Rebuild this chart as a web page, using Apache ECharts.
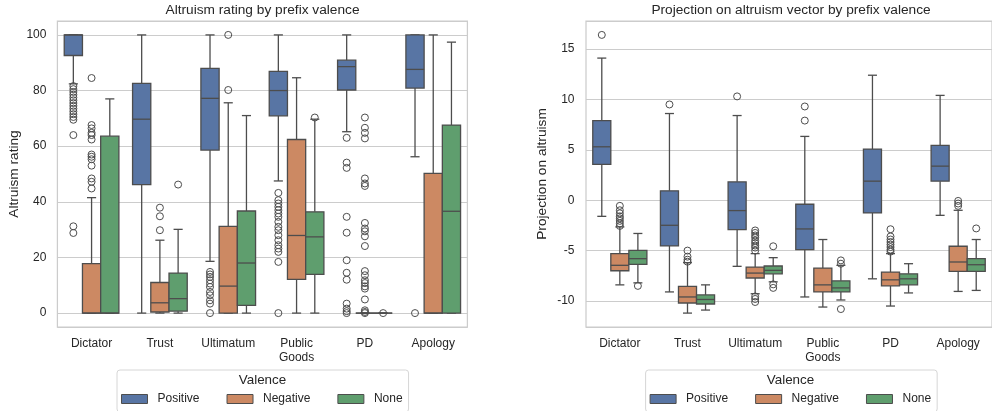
<!DOCTYPE html>
<html>
<head>
<meta charset="utf-8">
<script src="https://cdn.jsdelivr.net/npm/echarts@6/dist/echarts.min.js"></script>
<style>
  html, body { margin: 0; padding: 0; background: #ffffff; }
  #chart { width: 992px; height: 411px; }
</style>
</head>
<body>
<div id="chart"></div>
<script>
// Categories (prefix games) and hue levels
const categories = ['Dictator', 'Trust', 'Ultimatum', 'Public\nGoods', 'PD', 'Apology'];
const valences = ['Positive', 'Negative', 'None'];

// Altruism rating: [lower whisker, Q1, median, Q3, upper whisker] per category
const ratingPositive = [
  [82.4, 92.6, 100, 100, 100],
  [0, 46.2, 69.7, 82.6, 100],
  [18.6, 58.6, 77.2, 88, 100],
  [47.5, 70.9, 80, 86.9, 100],
  [65.2, 80.2, 88.6, 90.9, 100],
  [56.2, 80.9, 87.6, 100, 100]
];
const ratingNegative = [
  [0, 0, 0, 17.8, 41.5],
  [0, 0.4, 3.7, 11.0, 26.2],
  [0, 0, 9.7, 31.2, 75.6],
  [0, 12.1, 27.9, 62.4, 84.6],
  [0, 0, 0, 0, 0],
  [0, 0, 0, 50.2, 100]
];
const ratingNone = [
  [0, 0, 0, 63.6, 77],
  [0, 0.7, 5.2, 14.4, 30.1],
  [0, 2.8, 18, 36.7, 71],
  [0, 13.9, 27.4, 36.4, 69.7],
  [0, 0, 0, 0, 0],
  [0, 0, 36.6, 67.6, 97.4]
];

// Altruism rating outliers per category
const ratingOutPositive = [
  [81.6, 80.5, 79.5, 78.5, 77.5, 76.5, 75.5, 74.5, 73.5, 72.5, 71.5, 70.5, 69.5, 64, 31.2, 28.8],
  [],
  [14.8, 13.9, 13, 11.8, 10.6, 9.4, 7.6, 6.4, 4.6, 3.4, 0],
  [43.2, 40.6, 39.4, 38.2, 37, 35.8, 34.6, 32.8, 31, 29.8, 28, 26.2, 24.4, 23.2, 22, 18.4, 0],
  [63, 54.1, 52.2, 34.6, 28.9, 19, 14.5, 12, 3.4, 1.6, 0.7, 0],
  [0]
];
const ratingOutNegative = [
  [84.5, 67.6, 66.4, 64.8, 64, 62.4, 57, 56.2, 55.3, 53, 48.4, 47.2, 44.8],
  [37.9, 34.8, 29.8],
  [100, 80.2],
  [],
  [70.3, 66.6, 64.8, 62.8, 48.4, 46.6, 45.7, 32.4, 30.4, 29.4, 27.6, 24.1, 15.1, 13.6, 11.8, 10.8, 9.6, 8.8, 4.9, 1, 0.4, 0],
  []
];
const ratingOutNone = [
  [],
  [46.2],
  [],
  [70.3],
  [0],
  []
];

// Projection on altruism vector: [lower whisker, Q1, median, Q3, upper whisker]
const projPositive = [
  [-1.6, 3.55, 5.3, 7.9, 14.1],
  [-9.1, -4.54, -2.49, 0.93, 8.6],
  [-6.56, -2.92, -1.03, 1.82, 8.4],
  [-9.6, -4.9, -2.85, -0.4, 6.33],
  [-7.8, -1.26, 1.89, 5.07, 12.4],
  [-1.5, 1.89, 3.38, 5.44, 10.4]
];
const projNegative = [
  [-8.4, -7.0, -6.46, -5.3, -2.65],
  [-11.2, -10.2, -9.6, -8.55, -6.2],
  [-9.28, -7.72, -7.23, -6.63, -5.3],
  [-10.6, -9.1, -8.4, -6.73, -3.9],
  [-10.5, -8.5, -7.9, -7.13, -5.3],
  [-9.05, -7.06, -6.13, -4.57, -1.0]
];
const projNone = [
  [-8.2, -6.36, -5.8, -4.97, -3.3],
  [-10.9, -10.3, -9.85, -9.4, -8.4],
  [-8.1, -7.3, -6.96, -6.53, -5.7],
  [-9.9, -9.1, -8.7, -8.0, -6.46],
  [-9.2, -8.4, -7.8, -7.3, -6.3],
  [-8.95, -7.06, -6.4, -5.8, -3.9]
];

// Projection outliers per category
const projOutPositive = [[16.4], [9.5], [10.3], [9.3, 7.9], [], []];
const projOutNegative = [
  [-0.56, -1.0, -1.3, -1.6, -1.8, -2.05, -2.3, -2.55],
  [-5.0, -5.6, -5.9, -6.1],
  [-3.0, -3.25, -3.5, -3.7, -4.0, -4.25, -4.5, -4.7, -5.0, -9.55, -9.8, -10.1],
  [],
  [-2.88, -3.6, -3.9, -4.15, -4.4, -4.65, -4.9, -5.1],
  [-0.07, -0.33, -0.56]
];
const projOutNone = [[-8.5], [], [-4.57, -8.35, -8.7], [-5.97, -6.3, -10.8], [], [-2.8]];

const colors = ['#5875a4', '#cc8963', '#5f9e6e'];
const LINE = '#4d4d4d';
const TEXT = '#262626';
const FONT = '"Liberation Sans", Arial, sans-serif';

function boxRows(stats) {
  return stats.map((s, i) => [i].concat(s));
}
function flierRows(outs) {
  const rows = [];
  outs.forEach((vals, i) => vals.forEach(v => rows.push([i, v])));
  return rows;
}

// Dodged box: three hues share 80% of the band, touching each other
function boxRenderer(hue) {
  return function (params, api) {
    const cat = api.value(0);
    const band = api.size([1, 0])[0];
    const w = band * 0.8 / 3;
    const cx = api.coord([cat, 0])[0] + (hue - 1) * w;
    const py = (i) => api.coord([cat, api.value(i)])[1];
    const lo = py(1), q1 = py(2), med = py(3), q3 = py(4), hi = py(5);
    const cap = w * 0.5;
    const ls = { stroke: LINE, lineWidth: 1.3 };
    return {
      type: 'group',
      children: [
        { type: 'line', shape: { x1: cx, y1: q1, x2: cx, y2: lo }, style: ls },
        { type: 'line', shape: { x1: cx, y1: q3, x2: cx, y2: hi }, style: ls },
        { type: 'line', shape: { x1: cx - cap / 2, y1: lo, x2: cx + cap / 2, y2: lo }, style: ls },
        { type: 'line', shape: { x1: cx - cap / 2, y1: hi, x2: cx + cap / 2, y2: hi }, style: ls },
        { type: 'rect', shape: { x: cx - w / 2, y: q3, width: w, height: q1 - q3 },
          style: { fill: colors[hue], stroke: LINE, lineWidth: 1.3 } },
        { type: 'line', shape: { x1: cx - w / 2, y1: med, x2: cx + w / 2, y2: med }, style: ls }
      ]
    };
  };
}

function flierRenderer(hue) {
  return function (params, api) {
    const cat = api.value(0);
    const band = api.size([1, 0])[0];
    const w = band * 0.8 / 3;
    const p = api.coord([cat, api.value(1)]);
    return {
      type: 'circle',
      shape: { cx: p[0] + (hue - 1) * w, cy: p[1], r: 3.5 },
      style: { fill: 'none', stroke: LINE, lineWidth: 1 }
    };
  };
}

function panelSeries(axisIdx, statsList, outList) {
  const out = [];
  statsList.forEach((stats, h) => {
    out.push({
      type: 'custom', name: valences[h], xAxisIndex: axisIdx, yAxisIndex: axisIdx,
      itemStyle: { color: colors[h] },
      renderItem: boxRenderer(h),
      encode: { x: 0, y: [1, 2, 3, 4, 5] },
      data: boxRows(stats), silent: true
    });
  });
  outList.forEach((outs, h) => {
    out.push({
      type: 'custom', name: valences[h], xAxisIndex: axisIdx, yAxisIndex: axisIdx,
      itemStyle: { color: colors[h] },
      renderItem: flierRenderer(h),
      encode: { x: 0, y: 1 },
      data: flierRows(outs), silent: true, z: 3
    });
  });
  return out;
}

const legendData = valences.map((v, i) => ({
  name: v, icon: 'rect',
  itemStyle: { color: colors[i], borderColor: LINE, borderWidth: 1 }
}));

function legendAt(left) {
  return {
    left: left, top: 370, orient: 'horizontal',
    padding: [23, 6, 7, 4],
    borderColor: '#d6d6d6', borderWidth: 1, borderRadius: 3,
    itemWidth: 26, itemHeight: 9, itemGap: 27,
    textStyle: { fontSize: 12, color: TEXT, fontFamily: FONT, padding: [0, 0, 0, 5] },
    data: legendData
  };
}

function xAxisFor(idx) {
  return {
    type: 'category', gridIndex: idx, data: categories,
    axisLine: { show: false }, axisTick: { show: false }, splitLine: { show: false },
    axisLabel: { interval: 0, fontSize: 12, color: TEXT, fontFamily: FONT, margin: 9.5, lineHeight: 14.4 }
  };
}

function yAxisFor(idx, min, max, name, gap, margin) {
  return {
    type: 'value', gridIndex: idx, min: min, max: max,
    axisLine: { show: false }, axisTick: { show: false },
    splitLine: { lineStyle: { color: '#cccccc', width: 1 } },
    axisLabel: { fontSize: 12, color: TEXT, fontFamily: FONT, margin: margin,
                 showMinLabel: false, showMaxLabel: false },
    name: name, nameLocation: 'middle', nameGap: gap,
    nameTextStyle: { fontSize: 13.7, color: TEXT, fontFamily: FONT }
  };
}

const chart = echarts.init(document.getElementById('chart'), null, { renderer: 'canvas' });
chart.setOption({
  backgroundColor: '#ffffff',
  animation: false,
  textStyle: { fontFamily: FONT },
  title: [
    { text: 'Altruism rating by prefix valence', left: 262.5, top: 3.5, textAlign: 'center', padding: 0,
      textStyle: { fontSize: 13.7, fontWeight: 'normal', color: TEXT, fontFamily: FONT } },
    { text: 'Projection on altruism vector by prefix valence', left: 791, top: 3.5, textAlign: 'center', padding: 0,
      textStyle: { fontSize: 13.7, fontWeight: 'normal', color: TEXT, fontFamily: FONT } },
    { text: 'Valence', left: 262.5, top: 374, textAlign: 'center', padding: 0,
      textStyle: { fontSize: 13.4, fontWeight: 'normal', color: TEXT, fontFamily: FONT } },
    { text: 'Valence', left: 790.5, top: 374, textAlign: 'center', padding: 0,
      textStyle: { fontSize: 13.4, fontWeight: 'normal', color: TEXT, fontFamily: FONT } }
  ],
  legend: [legendAt(117), legendAt(645.6)],
  grid: [
    { left: 57.4, top: 21, width: 410, height: 306, show: true, borderColor: '#cccccc', borderWidth: 1.25, backgroundColor: '#ffffff' },
    { left: 586, top: 21, width: 410, height: 306, show: true, borderColor: '#cccccc', borderWidth: 1.25, backgroundColor: '#ffffff' }
  ],
  xAxis: [xAxisFor(0), xAxisFor(1)],
  yAxis: [
    yAxisFor(0, -5, 105, 'Altruism rating', 36, 11),
    yAxisFor(1, -12.58, 17.78, 'Projection on altruism', 37, 11.5)
  ],
  series: []
    .concat(panelSeries(0, [ratingPositive, ratingNegative, ratingNone], [ratingOutPositive, ratingOutNegative, ratingOutNone]))
    .concat(panelSeries(1, [projPositive, projNegative, projNone], [projOutPositive, projOutNegative, projOutNone]))
});
</script>
</body>
</html>
